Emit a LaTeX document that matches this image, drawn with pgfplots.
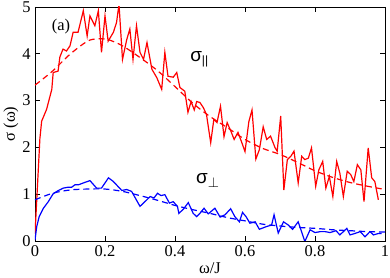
\documentclass[border=0pt]{standalone}
\usepackage{fontspec}
\setmainfont{Liberation Serif}
\newfontfamily\sansf{Liberation Sans}
\usepackage{pgfplots}
\pgfplotsset{compat=1.18}
\usetikzlibrary{calc}
\begin{document}
\fontsize{16}{18}\selectfont
\begin{tikzpicture}
\begin{axis}[name=ax, scale only axis, width=350bp, height=234bp,
  xmin=0, xmax=1, ymin=0, ymax=5,
  xtick={0,0.2,0.4,0.6,0.8,1}, xticklabels={0,0.2,0.4,0.6,0.8,1},
  ytick={0,1,2,3,4,5},
  tick align=inside, major tick length=5bp,
  tick style={black, line width=0.6pt},
  axis line style={line width=0.8pt},
  /pgf/number format/assume math mode=true,
  tick label style={font=\fontsize{16.5}{18}\selectfont},
  label style={font=\fontsize{16.5}{18}\selectfont},
  xlabel={ω/J}, ylabel={σ (ω)},
  xlabel style={yshift=5bp},
  ylabel style={yshift=-7bp},
  xticklabel style={yshift=1bp},
  yticklabel style={xshift=1bp},
  clip=true,
]
\addplot[red, line width=1.2pt] coordinates {
(0.000,0.15) (0.014,2.19) (0.019,2.56) (0.033,2.81) (0.048,3.24) (0.052,3.60)
(0.066,3.63) (0.071,3.93) (0.080,4.10) (0.090,4.06) (0.100,4.17) (0.109,4.46)
(0.123,4.46) (0.138,4.92) (0.149,4.38) (0.157,4.81) (0.171,4.60) (0.181,4.92)
(0.190,4.03) (0.200,4.81) (0.209,4.27) (0.224,4.46) (0.233,4.67) (0.240,5.06)
(0.250,3.88) (0.262,4.30) (0.271,4.53) (0.280,3.88) (0.290,4.60) (0.300,4.03)
(0.310,3.88) (0.320,4.24) (0.334,3.67) (0.348,3.49) (0.362,3.24) (0.371,4.03)
(0.380,3.52) (0.395,3.50) (0.405,3.60) (0.414,3.28) (0.428,3.20) (0.437,2.75)
(0.446,2.98) (0.455,2.80) (0.462,2.98) (0.471,2.96) (0.481,2.85) (0.490,2.70)
(0.502,2.10) (0.511,2.60) (0.520,2.53) (0.530,2.88) (0.540,2.23) (0.549,2.53)
(0.560,2.34) (0.569,2.17) (0.580,2.32) (0.591,2.10) (0.600,1.91) (0.611,2.55)
(0.620,2.80) (0.631,1.75) (0.641,1.95) (0.652,2.44) (0.662,2.17) (0.673,2.24)
(0.686,1.99) (0.692,1.92) (0.702,2.67) (0.711,1.09) (0.721,1.74) (0.731,1.81)
(0.740,1.92) (0.752,1.24) (0.762,1.81) (0.771,1.74) (0.781,1.77) (0.790,1.99)
(0.802,1.17) (0.811,1.52) (0.822,1.70) (0.831,1.13) (0.841,1.38) (0.851,0.95)
(0.862,1.70) (0.871,1.45) (0.881,0.95) (0.892,1.49) (0.902,1.42) (0.911,1.27)
(0.921,1.63) (0.931,1.52) (0.940,0.84) (0.952,1.99) (0.962,1.35) (0.971,1.27)
(0.981,0.88)
};
\addplot[red, line width=1.2pt, dash pattern=on 6bp off 4bp, smooth] coordinates {
(0.00,3.33) (0.05,3.63) (0.10,3.99) (0.15,4.27) (0.18,4.32) (0.21,4.30)
(0.25,4.17) (0.30,3.92) (0.35,3.64) (0.40,3.30) (0.45,2.95) (0.50,2.66)
(0.55,2.42) (0.60,2.17) (0.65,1.98) (0.70,1.85) (0.75,1.68) (0.80,1.50)
(0.85,1.36) (0.90,1.25) (0.95,1.17) (1.00,1.10)
};
\addplot[blue, line width=1.2pt] coordinates {
(0.000,0.02) (0.005,0.31) (0.012,0.52) (0.024,0.70) (0.038,0.84) (0.052,1.01)
(0.067,1.08) (0.081,1.13) (0.095,1.15) (0.105,1.15) (0.114,1.20) (0.124,1.20)
(0.138,1.24) (0.157,1.29) (0.176,1.13) (0.190,1.13) (0.210,1.35) (0.224,1.27)
(0.248,1.08) (0.262,1.10) (0.276,1.06) (0.300,0.74) (0.314,0.84) (0.329,0.95)
(0.340,0.92) (0.350,1.02) (0.360,0.97) (0.371,0.99) (0.384,0.81) (0.395,0.84)
(0.407,0.74) (0.411,0.59) (0.424,0.68) (0.438,0.82) (0.452,0.59) (0.462,0.52)
(0.471,0.59) (0.483,0.70) (0.495,0.58) (0.514,0.70) (0.529,0.51) (0.543,0.56)
(0.559,0.69) (0.571,0.52) (0.584,0.41) (0.593,0.61) (0.603,0.52) (0.614,0.38)
(0.629,0.41) (0.641,0.25) (0.662,0.31) (0.676,0.34) (0.683,0.56) (0.695,0.17)
(0.710,0.41) (0.724,0.34) (0.736,0.25) (0.752,0.41) (0.771,-0.01) (0.786,0.24)
(0.800,0.18) (0.815,0.20) (0.829,0.20) (0.843,0.18) (0.860,0.22) (0.871,0.13)
(0.891,0.27) (0.900,0.13) (0.914,0.16) (0.929,0.20) (0.943,0.09) (0.957,0.20)
(0.967,0.13) (0.981,0.16) (0.990,0.16)
};
\addplot[blue, line width=1.2pt, dash pattern=on 6bp off 4bp, smooth] coordinates {
(0.00,0.88) (0.05,1.02) (0.10,1.09) (0.15,1.11) (0.20,1.11) (0.25,1.06)
(0.30,0.97) (0.35,0.87) (0.40,0.76) (0.45,0.67) (0.50,0.59) (0.55,0.50)
(0.60,0.43) (0.65,0.36) (0.70,0.32) (0.75,0.29) (0.80,0.27) (0.85,0.24)
(0.90,0.22) (0.95,0.20) (1.00,0.19)
};
\node[font=\fontsize{16.5}{18}\selectfont] at (axis cs:0.074,4.59) {(a)};
\node[anchor=west, inner sep=0pt, font=\fontsize{19}{21}\selectfont\sansf] at (axis cs:0.443,3.88) {σ\raisebox{-3bp}{\fontsize{12}{13}\selectfont ||}};
\node[anchor=west, inner sep=0pt, font=\fontsize{19}{21}\selectfont\sansf] at (axis cs:0.46,1.29) {σ\raisebox{-4bp}{$\scriptstyle\perp$}};
\end{axis}
\pgfresetboundingbox
\path ($(ax.south west)+(-35bp,-37bp)$) rectangle ($(ax.north east)+(5bp,7bp)$);
\end{tikzpicture}
\end{document}
